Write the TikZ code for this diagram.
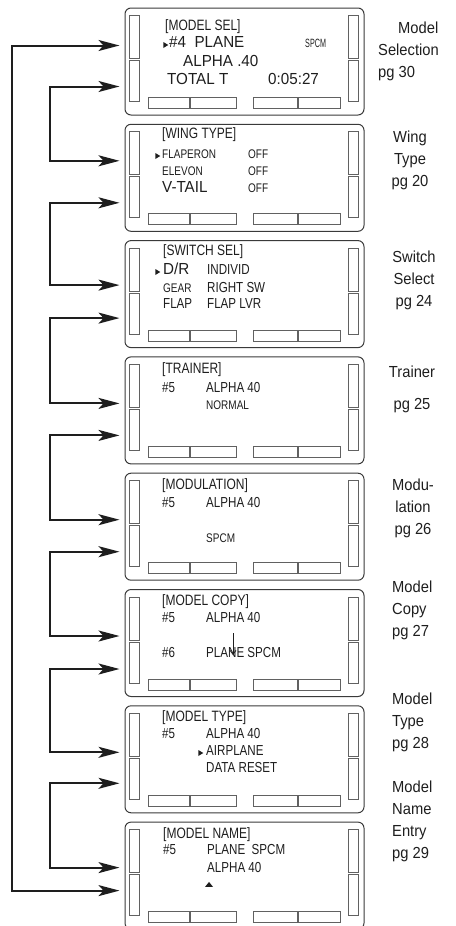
\documentclass[tikz,border=0pt]{standalone}
\usepackage{fontspec}
\setmainfont{Liberation Sans}
\newfontfamily\lcdnarrow{Liberation Sans}[FakeStretch=0.8]
\newfontfamily\lcdwide{Liberation Sans}[FakeStretch=0.95]
\newfontfamily\lcdthin{Liberation Sans}[FakeStretch=0.6]
\newfontfamily\pagefont{Liberation Sans}[FakeStretch=0.92]
\usetikzlibrary{shapes.geometric,arrows.meta,positioning,calc}
\definecolor{frame}{HTML}{3A3A3A}
\definecolor{ink}{HTML}{1E1E1E}

\begin{document}
\begin{tikzpicture}[
    x=1pt, y=-1pt,
    node distance=8.3pt,
    screen/.style={draw=frame,line width=1pt,rectangle,rounded corners=6pt,minimum width=239pt,minimum height=107pt,inner sep=0pt},
    lcdkey/.style={draw=frame!80,line width=0.8pt},
    lcdtitle/.style={font=\lcdnarrow\fontsize{15}{15}\selectfont,text=ink,anchor=mid west,inner sep=0pt},
    lcditem/.style={lcdtitle,font=\lcdnarrow\fontsize{14.5}{15}\selectfont},
    lcdsmall/.style={lcdtitle,font=\lcdnarrow\fontsize{12.5}{13}\selectfont},
    lcdbig/.style={lcdtitle,font=\lcdwide\fontsize{16}{16}\selectfont},
    cursor/.style={isosceles triangle,isosceles triangle stretches,fill=ink,inner sep=0pt,minimum width=6pt,minimum height=5pt},
    pglabel/.style={font=\pagefont\fontsize{16}{22}\selectfont,text=ink,inner sep=0pt},
    loopline/.style={{Stealth[length=21pt,width=11pt,inset=5pt]}-{Stealth[length=21pt,width=11pt,inset=5pt]},line width=2pt,draw=ink}
  ]
    \useasboundingbox (0,0) rectangle (455,926);

    % the eight setup screens
    \node[screen] (s1) at (244.5,61.5) {};
    \node[screen,below=of s1] (s2) {};
    \node[screen,below=of s2] (s3) {};
    \node[screen,below=of s3] (s4) {};
    \node[screen,below=of s4] (s5) {};
    \node[screen,below=of s5] (s6) {};
    \node[screen,below=of s6] (s7) {};
    \node[screen,below=of s7] (s8) {};

    % side bars, soft keys and arrow entry points
    \foreach \i/\u/\l in {1/38/79,2/37/79,3/45/78,4/47/79,5/47/79,6/47/80,7/47/78,8/46/69}{
      \coordinate (c\i) at (s\i.west |- s\i.north);
      \draw[lcdkey] ($(c\i)+(5,8)$) rectangle ++(10,43)
                    ($(c\i)+(5,53)$) rectangle ++(10,41)
                    ($(c\i)+(224,8)$) rectangle ++(10,43)
                    ($(c\i)+(224,53)$) rectangle ++(10,41)
                    ($(c\i)+(24,90)$) rectangle ++(40.5,11)
                    ($(c\i)+(66,90)$) rectangle ++(46,11)
                    ($(c\i)+(129,90)$) rectangle ++(43.5,11)
                    ($(c\i)+(174,90)$) rectangle ++(42,11);
      \coordinate (u\i) at ($(c\i)+(-5,\u)$);
      \coordinate (l\i) at ($(c\i)+(-5,\l)$);
    }
    \coordinate (rail) at (12,0);
    \coordinate (rung) at (49.5,0);
    \draw[loopline] (l8) -| (rail |- u1) -- (u1);
    \foreach \i [count=\j from 2] in {1,...,7}
      \draw[loopline] (l\i) -| (rung |- u\j) -- (u\j);

    % screen texts
    \node[lcdtitle] (t1) at (165,28) {[MODEL SEL]};
    \node[cursor] (k1) at (165,45) {};
    \node[lcdbig] (t1a) at (169,45) {\#4\ \ PLANE};
    \node[lcdtitle,font=\lcdthin\fontsize{12}{12}\selectfont] (t1b) at (305,45) {SPCM};
    \node[lcdbig] (t1c) at (183,64) {ALPHA .40};
    \node[lcdbig] (t1d) at (167,82) {TOTAL T};
    \node[lcdbig] (t1e) at (268,82) {0:05:27};

    \node[lcdtitle] (t2) at (162,136) {[WING TYPE]};
    \node[cursor] (k2) at (157,156) {};
    \node[lcdsmall] (t2a) at (162,156) {FLAPERON};
    \node[lcdsmall] (t2b) at (248,156) {OFF};
    \node[lcdsmall] (t2c) at (162,173) {ELEVON};
    \node[lcdsmall] (t2d) at (248,173) {OFF};
    \node[lcdbig] (t2e) at (162,190) {V-TAIL};
    \node[lcdsmall] (t2f) at (248,190) {OFF};

    \node[lcdtitle] (t3) at (163,253) {[SWITCH SEL]};
    \node[cursor] (k3) at (157,272) {};
    \node[lcdbig] (t3a) at (163,272) {D/R};
    \node[lcditem] (t3b) at (207,272) {INDIVID};
    \node[lcdsmall] (t3c) at (163,290) {GEAR};
    \node[lcditem] (t3d) at (207,290) {RIGHT SW};
    \node[lcditem] (t3e) at (163,306) {FLAP};
    \node[lcditem] (t3f) at (207,306) {FLAP LVR};

    \node[lcdtitle] (t4) at (162,371) {[TRAINER]};
    \node[lcditem] (t4a) at (162,390) {\#5};
    \node[lcditem] (t4b) at (206,390) {ALPHA 40};
    \node[lcdsmall] (t4c) at (206,407) {NORMAL};

    \node[lcdtitle] (t5) at (162,487) {[MODULATION]};
    \node[lcditem] (t5a) at (162,505) {\#5};
    \node[lcditem] (t5b) at (206,505) {ALPHA 40};
    \node[lcdsmall] (t5c) at (206,540) {SPCM};

    \node[lcdtitle] (t6) at (162,603) {[MODEL COPY]};
    \node[lcditem] (t6a) at (162,620) {\#5};
    \node[lcditem] (t6b) at (206,620) {ALPHA 40};
    \node[lcditem] (t6c) at (162,655) {\#6};
    \node[lcditem] (t6d) at (206,655) {PLANE SPCM};
    \coordinate (cpfrom) at (233,633);
    \coordinate (cpto) at (233,655);
    \draw[ink,line width=0.8pt,-{Straight Barb[length=4pt,width=6pt]}] (cpfrom) -- (cpto);

    \node[lcdtitle] (t7) at (162,719) {[MODEL TYPE]};
    \node[lcditem] (t7a) at (162,736) {\#5};
    \node[lcditem] (t7b) at (206,736) {ALPHA 40};
    \node[cursor] (k7) at (200,753) {};
    \node[lcditem] (t7c) at (206,753) {AIRPLANE};
    \node[lcditem] (t7d) at (206,770) {DATA RESET};

    \node[lcdtitle] (t8) at (163,836) {[MODEL NAME]};
    \node[lcditem] (t8a) at (163,852) {\#5};
    \node[lcditem] (t8b) at (207,852) {PLANE\ \ SPCM};
    \node[lcditem] (t8c) at (207,870) {ALPHA 40};
    \node[cursor,shape border rotate=90,minimum width=8pt] (k8) at (209,885) {};

    % page references
    \node[pglabel,anchor=north west,align=left] (p1) at (378,22) {\hspace*{20pt}Model\\Selection\\pg 30};
    \node[pglabel,anchor=north,align=center] (p2) at (410,131) {Wing\\Type\\pg 20};
    \node[pglabel,anchor=north,align=center] (p3) at (414,251) {Switch\\Select\\pg 24};
    \node[pglabel,anchor=north,align=center] (p4) at (412,366) {Trainer\\[10pt]pg 25};
    \node[pglabel,anchor=north,align=center] (p5) at (413,479) {Modu-\\lation\\pg 26};
    \node[pglabel,anchor=north west,align=left] (p6) at (392,581) {Model\\Copy\\pg 27};
    \node[pglabel,anchor=north west,align=left] (p7) at (392,693) {Model\\Type\\pg 28};
    \node[pglabel,anchor=north west,align=left] (p8) at (392,781) {Model\\Name\\Entry\\pg 29};
  \end{tikzpicture}
\end{document}
